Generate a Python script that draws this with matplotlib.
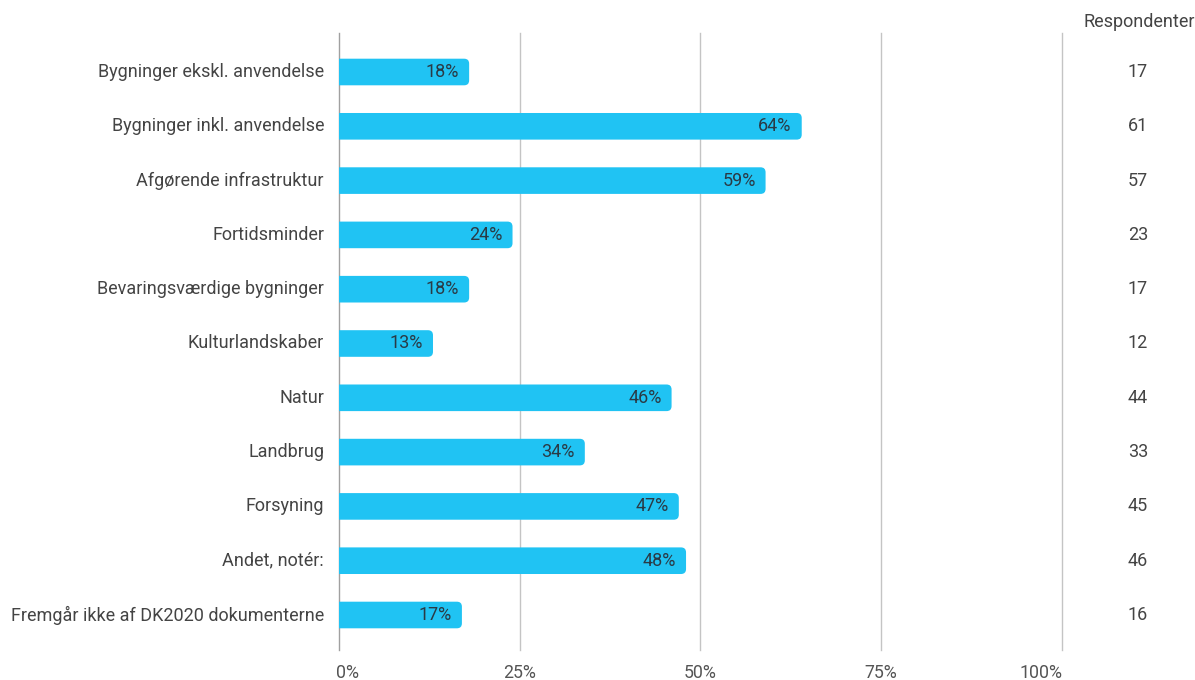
import matplotlib
matplotlib.use("Agg")
import matplotlib.pyplot as plt
from matplotlib.patches import FancyBboxPatch

categories = [
    "Bygninger ekskl. anvendelse",
    "Bygninger inkl. anvendelse",
    "Afgørende infrastruktur",
    "Fortidsminder",
    "Bevaringsværdige bygninger",
    "Kulturlandskaber",
    "Natur",
    "Landbrug",
    "Forsyning",
    "Andet, notér:",
    "Fremgår ikke af DK2020 dokumenterne",
]
percent = [18, 64, 59, 24, 18, 13, 46, 34, 47, 48, 17]
respondents = [17, 61, 57, 23, 17, 12, 44, 33, 45, 46, 16]
xticks = [0, 25, 50, 75, 100]
xtick_labels = ["0%", "25%", "50%", "75%", "100%"]
resp_header = "Respondenter"

plt.rcParams['font.family'] = ['Roboto', 'DejaVu Sans']

W, H = 1195, 680
fig = plt.figure(figsize=(W / 100, H / 100), dpi=100)
left, right, top, bottom = 339, 1062, 33, 650
ax = fig.add_axes([left / W, 1 - bottom / H, (right - left) / W, (bottom - top) / H])

n = len(categories)
row0, rowstep = 72, 54.3
ytop = -(row0 - top) / rowstep
ybot = (n - 1) + (bottom - (row0 + rowstep * (n - 1))) / rowstep
ax.set_xlim(0, 100)
ax.set_ylim(ybot, ytop)

for s in ax.spines.values():
    s.set_visible(False)
ax.set_xticks([])
ax.set_yticks([])

for xv in xticks:
    ax.axvline(xv, color="#c4c4c4" if xv else "#a0a0a0", lw=1.0, zorder=0, clip_on=False)

bar_h = 0.49
px_x = 100 / (right - left)
px_y = (ybot - ytop) / (bottom - top)
r = 5 * px_x
aspect = px_y / px_x
color = "#20c3f3"
fs = 13
for i, (c, v) in enumerate(zip(categories, percent)):
    p = FancyBboxPatch((-3, i - bar_h / 2), v + 3, bar_h,
                       boxstyle=f"round,pad=0,rounding_size={r}",
                       mutation_aspect=aspect, fc=color, ec="none", zorder=2)
    ax.add_patch(p)
    ax.text(v - 10 * px_x, i, f"{v}%", ha="right", va="center",
            fontsize=fs, color="#2a3a45", zorder=3)
    ax.text(-15 * px_x, i, c, ha="right", va="center", fontsize=fs,
            color="#444444", clip_on=False)
    ax.text(100 + (1138 - right) * px_x, i, str(respondents[i]), ha="center",
            va="center", fontsize=fs, color="#444444", clip_on=False)

ax.text(100 + (1139 - right) * px_x, ytop - 11 * px_y, resp_header, ha="center",
        va="center", fontsize=fs, color="#444444", clip_on=False)

ylab = ybot + 23 * px_y
tfs = 12.8
for xv, lab in zip(xticks, xtick_labels):
    if xv == 0:
        ax.text(xv - 3 * px_x, ylab, lab, ha="left", va="center", fontsize=tfs, color="#555555", clip_on=False)
    elif xv == 100:
        ax.text(xv + 1 * px_x, ylab, lab, ha="right", va="center", fontsize=tfs, color="#555555", clip_on=False)
    else:
        ax.text(xv, ylab, lab, ha="center", va="center", fontsize=tfs, color="#555555", clip_on=False)

fig.savefig("out.png", dpi=100, facecolor="white")
